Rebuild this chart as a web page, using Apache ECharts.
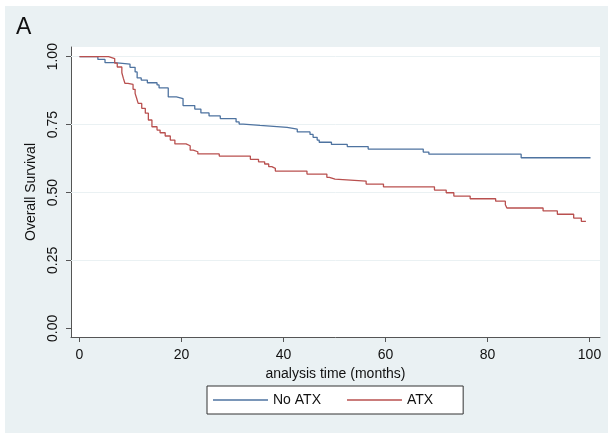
<!DOCTYPE html>
<html>
<head>
<meta charset="utf-8">
<script src="https://cdn.jsdelivr.net/npm/echarts@6/dist/echarts.min.js"></script>
<style>
  html, body { margin: 0; padding: 0; background: #ffffff; }
  #chart { width: 608px; height: 433px; }
</style>
</head>
<body>
<div id="chart"></div>
<script>
// Kaplan-Meier survival estimates, step times in months
const noAtxTime = [0, 3.6, 5.0, 6.9, 9.9, 10.9, 11.3, 12.1, 13.3, 15.2, 15.6, 17.4, 19.0, 20.3, 22.6, 23.8, 25.4, 27.6, 30.7, 31.3, 32.1, 35.4, 40.7, 42.7, 45.2, 45.8, 46.6, 47.0, 49.4, 52.5, 56.6, 67.4, 68.5, 86.6, 100.2];
const noAtxSurv = [1.0, 0.990, 0.978, 0.973, 0.961, 0.944, 0.922, 0.914, 0.904, 0.896, 0.885, 0.852, 0.846, 0.820, 0.807, 0.793, 0.782, 0.772, 0.760, 0.752, 0.747, 0.740, 0.733, 0.723, 0.714, 0.703, 0.693, 0.685, 0.677, 0.669, 0.660, 0.649, 0.641, 0.628, 0.628];

const atxTime = [0, 5.7, 6.9, 7.4, 8.3, 8.6, 8.9, 9.5, 10.5, 10.9, 11.2, 11.5, 12.2, 12.9, 13.5, 14.2, 15.2, 15.8, 16.8, 17.8, 18.7, 20.9, 21.7, 22.3, 23.2, 27.4, 33.5, 35.1, 36.3, 37.1, 37.7, 38.4, 44.6, 48.5, 49.0, 50.1, 56.2, 59.6, 69.6, 71.9, 73.4, 76.6, 81.6, 83.5, 83.8, 90.9, 93.7, 96.9, 98.4, 99.3];
const atxSurv = [1.0, 0.993, 0.976, 0.962, 0.941, 0.920, 0.902, 0.898, 0.880, 0.865, 0.847, 0.828, 0.810, 0.792, 0.767, 0.742, 0.730, 0.720, 0.708, 0.693, 0.679, 0.672, 0.656, 0.650, 0.642, 0.634, 0.622, 0.613, 0.605, 0.595, 0.589, 0.579, 0.568, 0.556, 0.549, 0.542, 0.531, 0.521, 0.509, 0.499, 0.487, 0.477, 0.468, 0.455, 0.443, 0.432, 0.420, 0.406, 0.394, 0.394];

const xTicks = [0, 20, 40, 60, 80, 100];
const yTicks = [0, 0.25, 0.5, 0.75, 1];
const groupNames = ['No ATX', 'ATX'];

const pairs = (xs, ys) => xs.map((x, i) => [x, ys[i]]);

const FONT = 'Liberation Sans, Arial, sans-serif';
const BLUE = '#4e73a0';
const RED = '#b9504f';
const BG = '#eaf1f3';

const chart = echarts.init(document.getElementById('chart'), null, { renderer: 'canvas' });

chart.setOption({
  animation: false,
  backgroundColor: '#ffffff',
  textStyle: { fontFamily: FONT },
  graphic: [
    { type: 'rect', z: -10, shape: { x: 5, y: 6, width: 603, height: 427 }, style: { fill: BG }, silent: true },
    { type: 'text', left: 16, top: 16, style: { text: 'A', fontFamily: FONT, fontSize: 23, fill: '#111' } }
  ],
  grid: {
    left: 71, right: 8, top: 47, bottom: 96,
    show: true, backgroundColor: '#ffffff', borderWidth: 0
  },
  legend: {
    data: groupNames,
    left: 207, top: 386,
    orient: 'horizontal',
    backgroundColor: '#ffffff',
    borderColor: '#333333', borderWidth: 1, borderRadius: 0,
    padding: [7, 30, 7, 6],
    itemWidth: 55, itemHeight: 1.5, itemGap: 26, itemTextGap: 11,
    icon: 'rect',
    textStyle: { fontFamily: FONT, fontSize: 14, color: '#111' }
  },
  xAxis: {
    type: 'value',
    min: -1.67, max: 102.06,
    name: 'analysis time (months)',
    nameLocation: 'middle', nameGap: 27,
    nameTextStyle: { fontFamily: FONT, fontSize: 14, color: '#111' },
    axisLine: { show: true, onZero: false, lineStyle: { color: '#555', width: 1 } },
    axisTick: { show: true, length: 5, inside: false, customValues: xTicks, lineStyle: { color: '#555' } },
    axisLabel: { customValues: xTicks, margin: 11, fontFamily: FONT, fontSize: 14, color: '#111' },
    splitLine: { show: false }
  },
  yAxis: {
    type: 'value',
    min: -0.032, max: 1.0357,
    name: 'Overall Survival',
    nameLocation: 'middle', nameGap: 33,
    nameRotate: 90,
    nameTextStyle: { fontFamily: FONT, fontSize: 14, color: '#111' },
    axisLine: { show: true, onZero: false, lineStyle: { color: '#555', width: 1 } },
    axisTick: { show: true, length: 5, customValues: yTicks, lineStyle: { color: '#555' } },
    axisLabel: {
      customValues: yTicks, rotate: 90, margin: 11,
      fontFamily: FONT, fontSize: 14, color: '#111',
      formatter: v => v.toFixed(2)
    },
    splitLine: { show: false }
  },
  series: [
    {
      // horizontal grid lines, kept underneath the survival curves
      name: 'grid', type: 'line', data: [], z: 1, silent: true,
      markLine: {
        silent: true, symbol: 'none', label: { show: false }, z: 1,
        lineStyle: { color: BG, width: 1, type: 'solid' },
        data: yTicks.filter(v => v > 0).map(v => ({ yAxis: v }))
      }
    },
    {
      name: groupNames[0], type: 'line', step: 'end', showSymbol: false,
      data: pairs(noAtxTime, noAtxSurv),
      lineStyle: { color: BLUE, width: 1.3 }, itemStyle: { color: BLUE },
      z: 3
    },
    {
      name: groupNames[1], type: 'line', step: 'end', showSymbol: false,
      data: pairs(atxTime, atxSurv),
      lineStyle: { color: RED, width: 1.3 }, itemStyle: { color: RED },
      z: 4
    }
  ]
});
</script>
</body>
</html>
